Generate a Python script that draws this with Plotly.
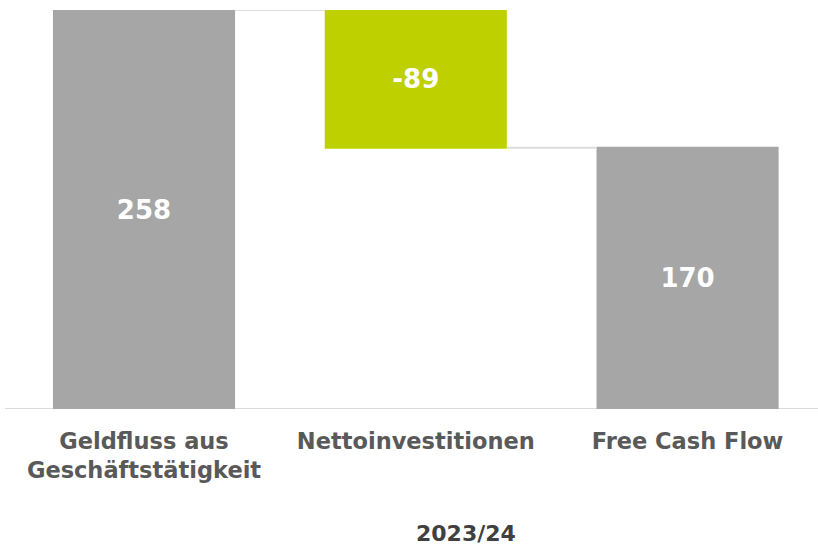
import plotly.graph_objects as go

categories = ["Geldfluss aus<br>Geschäftstätigkeit", "Nettoinvestitionen", "Free Cash Flow"]
values = [258, -89, 170]
measures = ["relative", "relative", "total"]
labels = ["258", "-89", "170"]
period = "2023/24"

FONT = "DejaVu Sans"

fig = go.Figure(go.Waterfall(
    x=categories,
    y=values,
    measure=measures,
    text=labels,
    textposition="inside",
    insidetextanchor="middle",
    textfont=dict(family=FONT, size=26, color="white", weight="bold"),
    increasing=dict(marker=dict(color="#a6a6a6")),
    decreasing=dict(marker=dict(color="#bed000")),
    totals=dict(marker=dict(color="#a6a6a6")),
    connector=dict(line=dict(color="#dcdcdc", width=2)),
    width=0.67,
    hoverinfo="skip",
))

fig.update_layout(
    width=818, height=546,
    margin=dict(l=5, r=0, t=10, b=137),
    paper_bgcolor="white", plot_bgcolor="white",
    showlegend=False,
    xaxis=dict(
        range=[-0.5115, 2.48],
        showgrid=False, zeroline=False,
        showline=False,
        ticks="", ticklabelstandoff=16,
        tickfont=dict(family=FONT, size=22.5, color="#595959", weight="bold"),
    ),
    yaxis=dict(
        range=[0, 258], visible=False, showgrid=False, zeroline=False,
    ),
    shapes=[dict(type="line", xref="paper", yref="y", x0=0, x1=1, y0=0, y1=0,
                 line=dict(color="#dcdcdc", width=2), layer="below")],
    annotations=[dict(text=period, xref="paper", yref="paper", x=(466 - 5) / 813,
                      y=-(533 - 409) / 399,
                      xanchor="center", yanchor="middle", showarrow=False,
                      borderpad=0,
                      font=dict(family=FONT, size=22, color="#404040", weight="bold"))],
)

fig.write_html("out.html", config={"displayModeBar": False},
               post_script="document.body.style.margin='0';")
